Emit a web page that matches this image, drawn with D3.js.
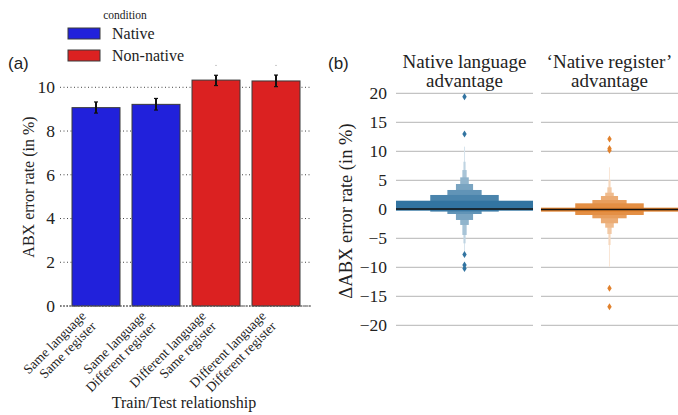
<!DOCTYPE html>
<html>
<head>
<meta charset="utf-8">
<script src="https://cdn.jsdelivr.net/npm/d3@7"></script>
<style>
  body { margin: 0; background: #fff; }
  text { font-family: "Liberation Serif", "DejaVu Serif", serif; fill: #222; }
  .panel-tag { font-family: "Liberation Sans", "DejaVu Sans", sans-serif; }
</style>
</head>
<body>
<svg id="chart" width="678" height="415"></svg>
<script>
(function() {
    // ---- data (panel a) ----
    const relations = [
        ["Same language", "Same register"],
        ["Same language", "Different register"],
        ["Different language", "Same register"],
        ["Different language", "Different register"]
    ];
    const conditions = ["Native", "Non-native"];
    const barCondition = ["Native", "Native", "Non-native", "Non-native"];
    const errorRate = [9.07, 9.22, 10.33, 10.29];
    const errLow = [8.82, 8.96, 10.08, 10.03];
    const errHigh = [9.33, 9.49, 10.55, 10.56];
    const strayDots = [null, null, 11.0, 11.0];   // tiny marks above the red bars
    const yTicksA = [0, 2, 4, 6, 8, 10];

    // ---- data (panel b) : letter values, innermost box first ----
    const facets = ["Native language\nadvantage", "\u2018Native register\u2019\nadvantage"];
    const lvLow = [
        [-0.24, -0.4, -0.81, -1.84, -2.7, -4.43, -5.87, -7.6],
        [-0.4, -0.98, -1.55, -2.41, -3.17, -4.26, -6.16, -9.9]
    ];
    const lvHigh = [
        [1.48, 2.47, 3.33, 4.36, 5.51, 6.77, 8.2, 10.8],
        [0.28, 1.03, 1.6, 2.29, 2.86, 3.79, 5.05, 7.24]
    ];
    const medians = [0.05, -0.05];
    const outliers = [
        [19.4, 13.0, -7.8, -9.6, -10.2],
        [12.1, 10.5, 10.2, -13.6, -16.8]
    ];
    const yTicksB = [-20, -15, -10, -5, 0, 5, 10, 15, 20];

    const svg = d3.select("#chart");

    // =================== panel (a) ===================
    const colorA = d3.scaleOrdinal().domain(conditions).range(["#2121db", "#db2121"]);
    const xA = d3.scaleBand().domain(d3.range(relations.length)).range([60, 312]).padding(0.2);
    const yA = d3.scaleLinear().domain([0, 10]).range([306, 87.3]);

    const pa = svg.append("g");

    pa.append("text").attr("class", "panel-tag")
        .attr("x", 8).attr("y", 69).attr("font-size", 17).text("(a)");

    // dotted grid
    pa.append("g").selectAll("line").data(yTicksA).join("line")
        .attr("x1", 60).attr("x2", 312)
        .attr("y1", d => yA(d)).attr("y2", d => yA(d))
        .attr("stroke", "#444").attr("stroke-width", 1)
        .attr("stroke-dasharray", "1,2.5");

    pa.append("g").selectAll("text").data(yTicksA).join("text")
        .attr("x", 55).attr("y", d => yA(d)).attr("dy", "0.34em")
        .attr("text-anchor", "end").attr("font-size", 17.5)
        .text(d => d);

    // bars
    pa.append("g").selectAll("rect").data(errorRate).join("rect")
        .attr("x", (d, i) => xA(i)).attr("width", xA.bandwidth())
        .attr("y", d => yA(d)).attr("height", d => yA(0) - yA(d))
        .attr("fill", (d, i) => colorA(barCondition[i]))
        .attr("stroke", "#3a3a3a").attr("stroke-width", 1);

    // bottom line
    pa.append("line").attr("x1", 60).attr("x2", 312)
        .attr("y1", yA(0)).attr("y2", yA(0))
        .attr("stroke", "#555").attr("stroke-width", 1.2).attr("stroke-dasharray", "2,1");

    // error bars
    const eb = pa.append("g").selectAll("g").data(errorRate).join("g")
        .attr("transform", (d, i) => `translate(${xA(i) + xA.bandwidth() / 2},0)`);
    eb.append("line").attr("y1", (d, i) => yA(errLow[i])).attr("y2", (d, i) => yA(errHigh[i]))
        .attr("stroke", "#111").attr("stroke-width", 2);
    eb.append("line").attr("x1", -2).attr("x2", 2)
        .attr("y1", (d, i) => yA(errLow[i])).attr("y2", (d, i) => yA(errLow[i]))
        .attr("stroke", "#111").attr("stroke-width", 1.2);
    eb.append("line").attr("x1", -2).attr("x2", 2)
        .attr("y1", (d, i) => yA(errHigh[i])).attr("y2", (d, i) => yA(errHigh[i]))
        .attr("stroke", "#111").attr("stroke-width", 1.2);

    pa.append("g").selectAll("rect").data(strayDots.map((v, i) => [v, i]).filter(d => d[0] !== null))
        .join("rect")
        .attr("x", d => xA(d[1]) + xA.bandwidth() / 2 - 0.5).attr("y", d => yA(d[0]) - 0.5)
        .attr("width", 1).attr("height", 1).attr("fill", "#999");

    // x tick labels (rotated, two lines)
    const xl = pa.append("g").selectAll("g").data(relations).join("g")
        .attr("transform", (d, i) => `translate(${xA(i) + xA.bandwidth() / 2 + 1},327) rotate(-45)`);
    xl.append("text").attr("text-anchor", "end").attr("font-size", 13.5)
        .attr("y", -14.5).text(d => d[0]);
    xl.append("text").attr("text-anchor", "end").attr("font-size", 13.5)
        .attr("y", 0).text(d => d[1]);

    pa.append("text").attr("x", 184).attr("y", 408).attr("text-anchor", "middle")
        .attr("font-size", 16).text("Train/Test relationship");

    pa.append("text").attr("transform", "translate(34,187) rotate(-90)")
        .attr("text-anchor", "middle").attr("font-size", 16)
        .text("ABX error rate (in %)");

    // legend
    const lg = pa.append("g");
    lg.append("text").attr("x", 125).attr("y", 19).attr("text-anchor", "middle")
        .attr("font-size", 11.5).text("condition");
    const li = lg.selectAll("g").data(conditions).join("g")
        .attr("transform", (d, i) => `translate(68,${28 + i * 22})`);
    li.append("rect").attr("width", 32).attr("height", 11)
        .attr("fill", d => colorA(d)).attr("stroke", "#3a3a3a").attr("stroke-width", 1);
    li.append("text").attr("x", 44).attr("y", 6).attr("dy", "0.34em")
        .attr("font-size", 16).text(d => d);

    // =================== panel (b) ===================
    const baseB = ["#3274a1", "#e1812c"];
    const fx = d3.scaleBand().domain(d3.range(facets.length)).range([396, 678]).paddingInner(0.055);
    const yB = d3.scaleLinear().domain([-20, 20]).range([325.3, 93.3]);

    const pb = svg.append("g");
    pb.append("text").attr("class", "panel-tag")
        .attr("x", 328).attr("y", 69).attr("font-size", 17).text("(b)");

    pb.append("g").selectAll("text").data(yTicksB).join("text")
        .attr("x", 387).attr("y", d => yB(d)).attr("dy", "0.34em")
        .attr("text-anchor", "end").attr("font-size", 17.5)
        .text(d => d3.format("d")(d));

    pb.append("text").attr("transform", "translate(352,211) rotate(-90)")
        .attr("text-anchor", "middle").attr("font-size", 18.5)
        .text("\u0394ABX error rate (in %)");

    const fg = pb.selectAll("g.facet").data(facets).join("g")
        .attr("class", "facet")
        .attr("transform", (d, i) => `translate(${fx(i)},0)`);

    const bw = fx.bandwidth();

    fg.selectAll("line.grid").data(yTicksB).join("line").attr("class", "grid")
        .attr("x1", 0).attr("x2", bw)
        .attr("y1", d => yB(d)).attr("y2", d => yB(d))
        .attr("stroke", "#b4b4b4").attr("stroke-width", 1);

    fg.append("text").attr("x", bw / 2).attr("y", 68).attr("text-anchor", "middle")
        .attr("font-size", 19)
        .selectAll("tspan").data(d => d.split("\n")).join("tspan")
        .attr("x", bw / 2).attr("dy", (d, i) => i === 0 ? 0 : 19).text(d => d);

    fg.each(function(f, fi) {
        const g = d3.select(this);
        const n = lvLow[fi].length;
        const shade = d3.interpolateRgb(baseB[fi], "#ffffff");
        const levels = d3.range(n).reverse();
        g.selectAll("rect.lv").data(levels).join("rect").attr("class", "lv")
            .attr("x", k => bw / 2 - bw * Math.pow(0.5, k) / 2)
            .attr("width", k => bw * Math.pow(0.5, k))
            .attr("y", k => yB(lvHigh[fi][k]))
            .attr("height", k => yB(lvLow[fi][k]) - yB(lvHigh[fi][k]))
            .attr("fill", k => shade(Math.min(0.9, k * 0.115)));
        g.append("line").attr("x1", 0).attr("x2", bw)
            .attr("y1", yB(medians[fi])).attr("y2", yB(medians[fi]))
            .attr("stroke", "#111").attr("stroke-width", 1.5);
        g.selectAll("path.out").data(outliers[fi]).join("path").attr("class", "out")
            .attr("d", v => {
                const cx = bw / 2, cy = yB(v);
                return `M${cx},${cy - 3.5}L${cx + 2.2},${cy}L${cx},${cy + 3.5}L${cx - 2.2},${cy}Z`;
            })
            .attr("fill", baseB[fi]);
    });
})();
</script>
</body>
</html>
